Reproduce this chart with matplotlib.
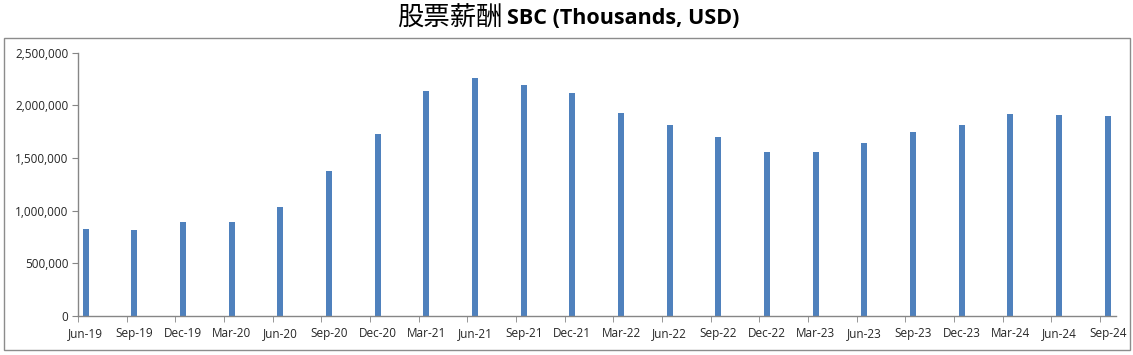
import numpy as np
import matplotlib
matplotlib.use("Agg")
import matplotlib.pyplot as plt
from matplotlib.patches import Rectangle
from matplotlib.ticker import FuncFormatter

quarters = ["Jun-19", "Sep-19", "Dec-19", "Mar-20", "Jun-20", "Sep-20", "Dec-20",
            "Mar-21", "Jun-21", "Sep-21", "Dec-21", "Mar-22", "Jun-22", "Sep-22",
            "Dec-22", "Mar-23", "Jun-23", "Sep-23", "Dec-23", "Mar-24", "Jun-24", "Sep-24"]
sbc = [826000, 817000, 893000, 893000, 1035000, 1377000, 1728000,
       2137000, 2260000, 2194000, 2118000, 1928000, 1814000, 1700000,
       1557000, 1557000, 1643000, 1747000, 1814000, 1918000, 1909000, 1899000]
yticks = [0, 500000, 1000000, 1500000, 2000000, 2500000]

W, H = 1133, 355
fig = plt.figure(figsize=(W / 100, H / 100), dpi=100)

# outer chart border
fig.patches.append(Rectangle((4 / W, 1 - 350 / H), 1126 / W, 312 / H,
                             transform=fig.transFigure, fill=False,
                             edgecolor="#8c8c8c", linewidth=1))

ax = fig.add_axes([78 / W, 1 - 316 / H, (1116 - 78) / W, (316 - 52.7) / H])
x = np.arange(len(quarters))
ax.bar(x, sbc, width=0.125, color="#4F81BD")

off = 7.7 / 48.67
ax.set_xlim(-off, len(quarters) - 1 + 8.3 / 48.67)
ax.set_ylim(0, 2500000)

ax.set_xticks(x)
ax.set_xticklabels(quarters)
ax.set_xticks(x - off, minor=True)
ax.tick_params(axis="x", which="major", length=0, pad=8)
ax.tick_params(axis="x", which="minor", length=4, color="#868686", direction="out")
ax.set_yticks(yticks)
ax.yaxis.set_major_formatter(FuncFormatter(lambda v, p: f"{int(v):,}"))
ax.tick_params(axis="y", length=4, color="#868686", direction="out", pad=3)
for lab in ax.get_xticklabels() + ax.get_yticklabels():
    lab.set_fontfamily("Open Sans")
    lab.set_fontsize(8.5)
    lab.set_color("#262626")

for s in ["top", "right"]:
    ax.spines[s].set_visible(False)
for s in ["left", "bottom"]:
    ax.spines[s].set_color("#868686")
    ax.spines[s].set_linewidth(1)

fig.text(503 / W, 1 - 18 / H, "股票薪酬", ha="right", va="center",
         fontfamily="Noto Sans CJK SC", fontsize=19, color="black")
fig.text(507 / W, 1 - 18 / H, "SBC (Thousands, USD)", ha="left", va="center",
         fontfamily="Open Sans", fontweight="bold", fontsize=15.5, color="black")

fig.savefig("out.png", dpi=100)
